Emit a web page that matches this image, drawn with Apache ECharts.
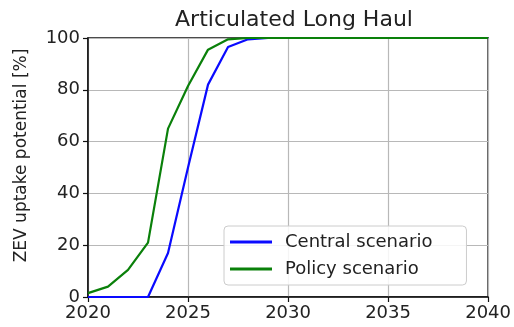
<!DOCTYPE html>
<html>
<head>
<meta charset="utf-8">
<script src="https://cdn.jsdelivr.net/npm/echarts@6/dist/echarts.min.js"></script>
<style>html,body{margin:0;padding:0;background:#fff}#c{width:514px;height:327px}</style>
</head>
<body>
<div id="c"></div>
<script>
const years = [2020,2021,2022,2023,2024,2025,2026,2027,2028,2029,2030,2031,2032,2033,2034,2035,2036,2037,2038,2039,2040];
const central = [0,0,0,0,17,50,82,96.5,99.5,100,100,100,100,100,100,100,100,100,100,100,100];
const policy = [1.5,4,10.5,21,65,81.5,95.5,99.5,100,100,100,100,100,100,100,100,100,100,100,100,100];
const xTicks = [2020,2025,2030,2035,2040];
const yTicks = [0,20,40,60,80,100];
const seriesNames = ['Central scenario','Policy scenario'];

const font = 'DejaVu Sans';
const chart = echarts.init(document.getElementById('c'), null, {renderer:'canvas'});
chart.setOption({
  animation:false,
  backgroundColor:'#fff',
  title:{text:'Articulated Long Haul', left:289, top:4, textAlign:'center',
    textStyle:{fontFamily:font, fontSize:22, fontWeight:'normal', color:'#222'}},
  grid:{left:88, right:25, top:38, bottom:30, show:true, borderColor:'#111', borderWidth:1.5, backgroundColor:'transparent'},
  legend:{orient:'vertical', left:224, top:226, padding:[7,34,7,6], itemGap:9,
    itemWidth:42, itemHeight:3, icon:'rect',
    backgroundColor:'rgba(255,255,255,0.85)', borderColor:'#ccc', borderWidth:1, borderRadius:4,
    textStyle:{fontFamily:font, fontSize:18, color:'#222', padding:[0,0,0,8]},
    data:seriesNames},
  xAxis:{type:'value', min:xTicks[0], max:xTicks[xTicks.length-1], interval:5,
    axisLine:{show:true, lineStyle:{color:'#111', width:1.5}},
    axisTick:{show:true, length:5, lineStyle:{color:'#111', width:1.2}},
    axisLabel:{fontFamily:font, fontSize:18, color:'#222', margin:7, formatter:v=>String(v)},
    splitLine:{show:true, lineStyle:{color:'#b8b8b8', width:1.2}}},
  yAxis:{type:'value', min:yTicks[0], max:yTicks[yTicks.length-1], interval:20,
    name:'ZEV uptake potential [%]', nameLocation:'middle', nameGap:58,
    nameTextStyle:{fontFamily:font, fontSize:17, color:'#222', padding:[0,0,0,24]},
    axisLine:{show:true, lineStyle:{color:'#111', width:1.5}},
    axisTick:{show:true, length:5, lineStyle:{color:'#111', width:1.2}},
    axisLabel:{fontFamily:font, fontSize:18, color:'#222', margin:8},
    splitLine:{show:true, lineStyle:{color:'#b8b8b8', width:1.2}}},
  series:[
    {name:seriesNames[0], type:'line', showSymbol:false, symbol:'none', color:'#0a0aff',
      lineStyle:{width:2.2, color:'#0a0aff'}, data:years.map((y,i)=>[y,central[i]]), z:3},
    {name:seriesNames[1], type:'line', showSymbol:false, symbol:'none', color:'#0a800a',
      lineStyle:{width:2.2, color:'#0a800a'}, data:years.map((y,i)=>[y,policy[i]]), z:4}
  ]
});
</script>
</body>
</html>
